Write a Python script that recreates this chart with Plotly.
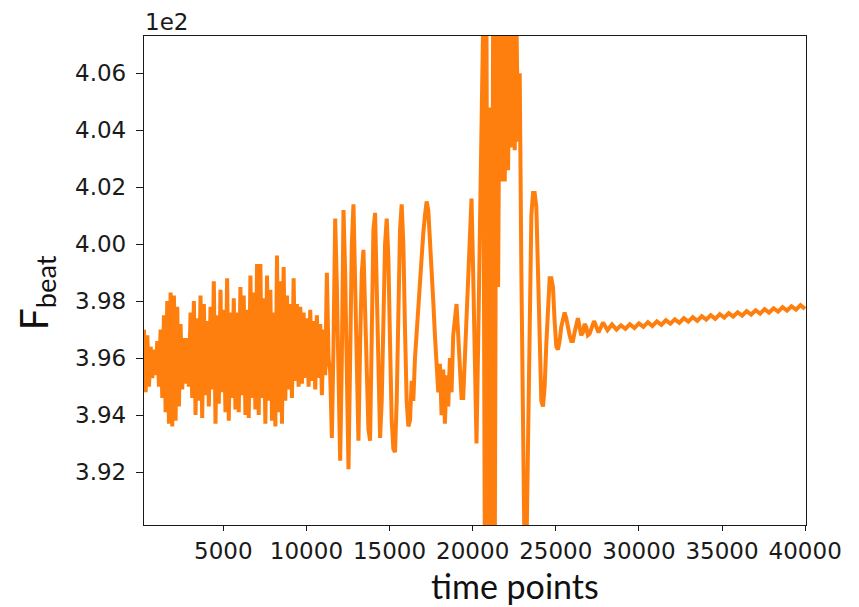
import numpy as np
import plotly.graph_objects as go

# F_beat values (real units; axis shows them x1e2)
# densely oscillating part, sampled every 100 time points starting at 230
v_main = [
    397.0, 394.8, 396.8, 395.0, 396.4, 395.3, 396.3, 395.4, 396.6, 395.0,
    397.0, 394.6, 397.5, 394.1, 398.0, 393.7, 398.3, 393.6, 398.2, 393.8,
    397.8, 394.3, 397.2, 394.9, 396.7, 395.1, 396.7, 395.0, 397.6, 394.6,
    398.0, 394.0, 397.4, 394.5, 398.2, 393.9, 397.9, 394.7, 397.3, 394.3,
    397.8, 394.9, 398.7, 393.7, 397.5, 394.4, 398.4, 394.8, 397.7, 394.1,
    398.8, 393.8, 397.6, 394.6, 398.1, 394.2, 397.6, 394.1, 398.5, 394.7,
    398.2, 394.0, 397.7, 393.9, 398.9, 394.6, 398.3, 394.2, 399.3, 394.0,
    399.3, 394.6, 398.1, 393.7, 398.9, 394.5, 398.4, 393.8, 397.6, 393.6,
    399.6, 394.1, 398.7, 393.7, 399.2, 394.5, 398.2, 394.9, 397.9, 394.6,
    398.8, 395.2, 397.9, 395.0, 397.8, 395.1, 397.6, 395.3, 397.4, 395.0,
    397.7, 395.2, 397.3, 394.9, 397.5, 395.3, 397.2, 394.7, 397.0, 395.4,
    399.0, 396.0, 395.5, 393.2, 396.5, 400.9, 398.5, 395.0, 392.4, 396.0,
    401.2, 399.0, 394.5, 392.1, 396.0, 400.0, 401.4, 398.0, 394.5, 393.1,
    396.5, 399.0, 399.8, 397.5, 395.0, 393.5, 393.1, 397.0, 400.5, 401.1,
    398.5, 395.0, 393.2, 394.5, 397.5, 400.0, 400.9, 399.5, 396.5, 393.8,
    392.8, 392.7, 394.5, 397.5, 400.5, 401.4, 400.0, 397.0, 394.5, 393.6,
    393.8, 395.2, 394.5, 396.0, 397.0, 398.0, 398.8, 399.6, 400.4, 401.0,
    401.5, 401.2, 400.3, 399.3, 398.0, 396.8, 395.4, 394.8, 395.8, 394.0,
    395.6, 393.7, 395.4, 394.3, 396.0, 394.8, 396.8, 397.5, 397.9, 396.8,
    395.5, 394.6, 394.6, 396.0, 397.0, 398.3, 399.5, 401.6, 399.0, 396.0,
    393.0, 396.5, 400.0, 404.5, 407.8, 389.0, 407.8, 389.0, 404.8, 388.5,
    408.0, 389.0, 407.8, 398.5, 408.0, 402.2, 408.0, 402.2, 408.0, 402.6,
    408.0, 403.4, 408.0, 403.3, 408.0, 403.6, 406.0, 399.0, 392.0, 388.5,
    389.0, 393.0, 398.0, 401.0, 401.8, 401.8, 401.3, 399.0, 396.5, 394.5,
    394.3, 395.0, 396.5, 397.8, 398.8, 398.8, 398.5, 397.3, 396.4, 396.3,
    396.6, 397.1, 397.3, 397.6, 397.4, 397.0, 396.8, 396.6, 396.6, 396.9,
    397.2, 397.4, 397.1, 396.8, 396.9, 397.2, 397.1, 396.8,
]
# slowly drifting tail, sampled every 270 time points starting at 27030
v_tail = [
    396.85, 397.3, 396.9, 397.25, 396.98, 397.18, 397.0, 397.15, 397.03, 397.19,
    397.06, 397.22, 397.10, 397.26, 397.13, 397.29, 397.17, 397.33, 397.21, 397.36,
    397.24, 397.40, 397.28, 397.44, 397.31, 397.47, 397.35, 397.51, 397.38, 397.54,
    397.42, 397.58, 397.46, 397.61, 397.49, 397.65, 397.53, 397.68, 397.56, 397.72,
    397.60, 397.75, 397.63, 397.79, 397.67, 397.82, 397.70, 397.86, 397.73,
]
t_main = 230 + 100 * np.arange(len(v_main))
t_tail = 27030 + 270 * np.arange(len(v_tail))

x_ticks = [5000, 10000, 15000, 20000, 25000, 30000, 35000, 40000]
x_tick_text = ["5000", "10000", "15000", "20000", "25000", "30000", "35000", "40000"]
y_ticks = [392, 394, 396, 398, 400, 402, 404, 406]
y_tick_text = ["3.92", "3.94", "3.96", "3.98", "4.00", "4.02", "4.04", "4.06"]

t_all = np.concatenate([t_main, t_tail])
v_all = np.concatenate([np.array(v_main), np.array(v_tail)])

fig = go.Figure()
fig.add_trace(go.Scatter(x=t_all, y=v_all, mode="lines",
                         line=dict(color="#ff7f0e", width=4), showlegend=False))

tick_font = dict(family="DejaVu Sans", size=23, color="#1a1a1a")
fig.update_layout(
    width=859, height=607,
    margin=dict(l=136, r=61, t=28, b=90),
    paper_bgcolor="white", plot_bgcolor="white",
    xaxis=dict(range=[230, 40050], tickvals=x_ticks, ticktext=x_tick_text,
               showgrid=False, zeroline=False,
               showline=True, mirror=True, linecolor="#1a1a1a", linewidth=1.3,
               ticks="outside", ticklen=5, tickwidth=1.3, tickcolor="#1a1a1a",
               tickfont=tick_font),
    yaxis=dict(range=[390.14, 407.31], tickvals=y_ticks, ticktext=y_tick_text,
               showgrid=False, zeroline=False,
               showline=True, mirror=True, linecolor="#1a1a1a", linewidth=1.3,
               ticks="outside", ticklen=7, tickwidth=1.3, tickcolor="#1a1a1a",
               ticklabelstandoff=5, tickfont=tick_font),
    annotations=[
        dict(text="1e2", xref="paper", yref="paper", x=0, y=1, xanchor="left",
             yanchor="bottom", showarrow=False, yshift=0, borderpad=0,
             font=dict(family="DejaVu Sans", size=23, color="#1a1a1a")),
        dict(text="time points", xref="paper", yref="paper", x=0.5604, y=-0.1227,
             xanchor="center", yanchor="middle", showarrow=False,
             font=dict(family="Lato", size=34, color="#111111")),
        dict(text="F<sub>beat</sub>", xref="paper", yref="paper", x=-0.163, y=0.474,
             xanchor="center", yanchor="middle", showarrow=False, textangle=-90,
             borderpad=0, font=dict(family="Lato", size=39, color="#111111")),
    ],
)

fig.write_html("out.html")
